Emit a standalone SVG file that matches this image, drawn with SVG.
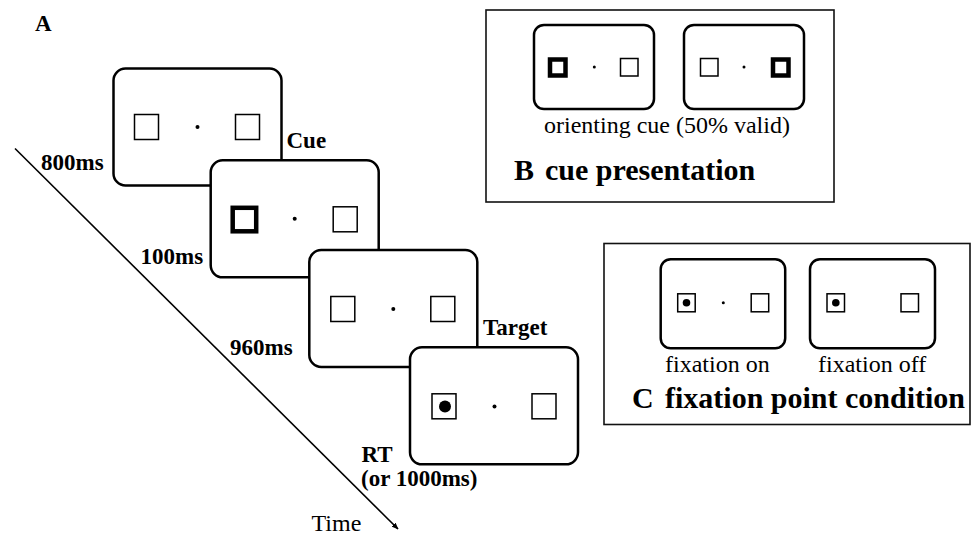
<svg xmlns="http://www.w3.org/2000/svg" width="972" height="536" viewBox="0 0 972 536">
  <style>
    .bg { fill: #ffffff; }
    .screen { fill: #ffffff; stroke: #000; stroke-width: 2.5; }
    .sq { fill: #ffffff; stroke: #000; stroke-width: 1.5; }
    .sq-cue { fill: #ffffff; stroke: #000; stroke-width: 4.5; }
    .dot { fill: #000; }
    .panel { fill: none; stroke: #111; stroke-width: 1.6; }
    .lbl { font-family: "Liberation Serif", "Times New Roman", serif; font-weight: bold; font-size: 23px; fill: #000; }
    .cap { font-family: "Liberation Serif", "Times New Roman", serif; font-size: 24px; fill: #000; }
    .title { font-family: "Liberation Serif", "Times New Roman", serif; font-weight: bold; font-size: 30px; fill: #000; }
    .axis { stroke: #000; stroke-width: 1.6; fill: none; }
  </style>
  <defs>
    <marker id="arrow" viewBox="0 0 10 10" refX="9" refY="5" markerWidth="7" markerHeight="7" orient="auto" markerUnits="userSpaceOnUse">
      <path d="M0,1 L10,5 L0,9 Z" fill="#000"/>
    </marker>
  </defs>
  <rect class="bg" x="0" y="0" width="972" height="536"/>

  <!-- Panel A: trial sequence -->
  <text class="lbl" x="35" y="31">A</text>

  <g id="connectors">
    <line class="axis" x1="15" y1="148.5" x2="398" y2="529" marker-end="url(#arrow)"/>
  </g>

  <g id="screen-fixation" transform="translate(113.5,68.5)">
    <rect class="screen" x="0" y="0" width="168" height="117" rx="12"/>
    <rect class="sq" x="21" y="46" width="24" height="25"/>
    <circle class="dot" cx="84" cy="58.5" r="2"/>
    <rect class="sq" x="122" y="46" width="24" height="25"/>
  </g>
  <text class="lbl" x="41" y="170">800ms</text>
  <text class="lbl" x="286.5" y="148">Cue</text>

  <g id="screen-cue" transform="translate(210.7,160.3)">
    <rect class="screen" x="0" y="0" width="168" height="117" rx="12"/>
    <rect class="sq-cue" x="22" y="47.5" width="23.5" height="23.5"/>
    <circle class="dot" cx="84" cy="58.5" r="2"/>
    <rect class="sq" x="122.5" y="46.5" width="24" height="25"/>
  </g>
  <text class="lbl" x="140.5" y="264">100ms</text>

  <g id="screen-delay" transform="translate(309.3,250)">
    <rect class="screen" x="0" y="0" width="168" height="117" rx="12"/>
    <rect class="sq" x="21.5" y="46.5" width="24" height="25"/>
    <circle class="dot" cx="84" cy="59" r="2"/>
    <rect class="sq" x="121.5" y="46.5" width="24" height="25"/>
  </g>
  <text class="lbl" x="230" y="355">960ms</text>
  <text class="lbl" x="483" y="335">Target</text>

  <g id="screen-target" transform="translate(410,347.3)">
    <rect class="screen" x="0" y="0" width="168" height="117" rx="12"/>
    <rect class="sq" x="22" y="46.5" width="24" height="25"/>
    <circle class="dot" cx="35" cy="59.3" r="6"/>
    <circle class="dot" cx="84.5" cy="59.3" r="2"/>
    <rect class="sq" x="122" y="46.5" width="24" height="25"/>
  </g>
  <text class="lbl" x="361.5" y="462">RT</text>
  <text class="lbl" x="361" y="486">(or 1000ms)</text>
  <text class="cap" x="311.5" y="531">Time</text>

  <!-- Panel B: cue presentation -->
  <g id="panel-b">
    <rect class="panel" x="486" y="10" width="348" height="192"/>
    <g id="cue-left" transform="translate(534,25)">
      <rect class="screen" x="0" y="0" width="120" height="84" rx="10"/>
      <rect class="sq-cue" x="16" y="34.5" width="15.5" height="16"/>
      <circle class="dot" cx="60.3" cy="42" r="1.5"/>
      <rect class="sq" x="86.5" y="33.5" width="17.5" height="17.5"/>
    </g>
    <g id="cue-right" transform="translate(684,25)">
      <rect class="screen" x="0" y="0" width="120" height="84" rx="10"/>
      <rect class="sq" x="16.5" y="33.5" width="17.5" height="17.5"/>
      <circle class="dot" cx="60" cy="42" r="1.5"/>
      <rect class="sq-cue" x="89" y="34.5" width="15.5" height="16"/>
    </g>
    <text class="cap" x="544" y="133">orienting cue (50% valid)</text>
    <text class="title" x="514" y="180">B</text>
    <text class="title" x="545" y="180">cue presentation</text>
  </g>

  <!-- Panel C: fixation point condition -->
  <g id="panel-c">
    <rect class="panel" x="604" y="243.5" width="366" height="181"/>
    <g id="fixation-on" transform="translate(660.7,259.3)">
      <rect class="screen" x="0" y="0" width="124.5" height="89" rx="10"/>
      <rect class="sq" x="17" y="34.5" width="17.5" height="18"/>
      <circle class="dot" cx="25.8" cy="43.5" r="3.8"/>
      <circle class="dot" cx="62.6" cy="43.5" r="1.5"/>
      <rect class="sq" x="90.5" y="34.5" width="17.5" height="18"/>
    </g>
    <g id="fixation-off" transform="translate(810,259.3)">
      <rect class="screen" x="0" y="0" width="125" height="89" rx="10"/>
      <rect class="sq" x="17" y="34.5" width="17.5" height="18"/>
      <circle class="dot" cx="25.8" cy="43.5" r="3.8"/>
      <rect class="sq" x="91" y="34.5" width="17.5" height="18"/>
    </g>
    <text class="cap" x="665" y="372">fixation on</text>
    <text class="cap" x="818" y="372">fixation off</text>
    <text class="title" x="632" y="408">C</text>
    <text class="title" x="665" y="408">fixation point condition</text>
  </g>
</svg>
